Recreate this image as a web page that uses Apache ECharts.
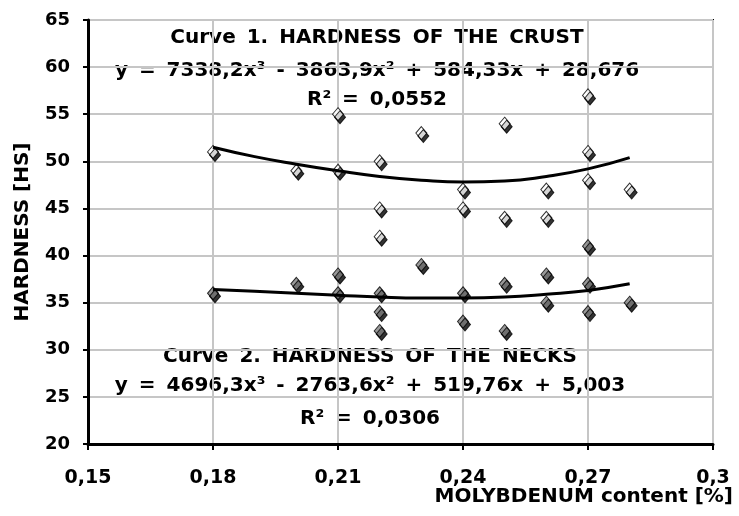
<!DOCTYPE html>
<html>
<head>
<meta charset="utf-8">
<script src="https://cdn.jsdelivr.net/npm/echarts@6/dist/echarts.min.js"></script>
<style>
  html, body { margin: 0; padding: 0; background: #fff; }
  #chart { width: 739px; height: 516px; }
</style>
</head>
<body>
<div id="chart"></div>
<script>
// measured points: crust (open diamonds) and necks (grey diamonds)
const crustX = [0.18, 0.20, 0.21, 0.21, 0.22, 0.22, 0.22, 0.23, 0.24, 0.24, 0.25, 0.25, 0.26, 0.26, 0.27, 0.27, 0.27, 0.28];
const crustY = [51, 49, 49, 55, 50, 45, 42, 53, 47, 45, 54, 44, 47, 44, 57, 51, 48, 47];
const neckX = [0.18, 0.20, 0.21, 0.21, 0.22, 0.22, 0.22, 0.23, 0.24, 0.24, 0.25, 0.25, 0.26, 0.26, 0.27, 0.27, 0.27, 0.28];
const neckY = [36, 37, 38, 36, 36, 34, 32, 39, 36, 33, 37, 32, 38, 35, 41, 37, 34, 35];

// trend curves
const fitX = [0.18, 0.19, 0.20, 0.21, 0.22, 0.23, 0.24, 0.25, 0.26, 0.27, 0.28];
const crustFit = [51.5, 50.5, 49.7, 49.0, 48.4, 48.0, 47.8, 47.9, 48.4, 49.2, 50.4];
const neckFit = [36.4, 36.2, 36.0, 35.8, 35.6, 35.5, 35.5, 35.6, 35.9, 36.3, 37.0];

const xTickLabels = ["0,15", "0,18", "0,21", "0,24", "0,27", "0,3"];

const FONT = "'DejaVu Sans', Verdana, sans-serif";

function pairs(xs, ys) {
  return xs.map((x, i) => [x, ys[i]]);
}

// spaces get a little padding so the wide Excel spacing is kept
function widen(text) {
  return text.split(" ").join("{w| }");
}

function note(x, y, text, align, size) {
  return {
    type: "text",
    x: x,
    y: y,
    silent: true,
    style: {
      text: text,
      fill: "#000",
      font: "bold " + (size || 20) + "px " + FONT,
      textAlign: align || "center",
      textVerticalAlign: "middle",
      align: align || "center",
      verticalAlign: "middle",
      rich: {
        w: { padding: [0, 2], font: "bold " + (size || 20) + "px " + FONT },
      },
    },
  };
}

const markerStyle = {
  borderColor: "#000",
  borderWidth: 1,
  shadowColor: "#000",
  shadowBlur: 0,
  shadowOffsetX: 2,
  shadowOffsetY: 3,
};

const myChart = echarts.init(document.getElementById("chart"));
myChart.setOption({
  animation: false,
  backgroundColor: "#fff",
  grid: {
    left: 88,
    right: 26,
    top: 20,
    bottom: 72,
    show: true,
    borderColor: "#000",
    borderWidth: 2,
  },
  xAxis: {
    type: "value",
    min: 0.15,
    max: 0.3,
    interval: 0.03,
    axisLine: { show: true, lineStyle: { color: "#000", width: 3 } },
    axisTick: { show: true, inside: false, length: 6, lineStyle: { color: "#000", width: 2 } },
    splitLine: { show: true, lineStyle: { color: "#c6c6c6", width: 2 } },
    axisLabel: {
      color: "#000",
      fontFamily: FONT,
      fontWeight: "bold",
      fontSize: 19,
      margin: 25,
      formatter: function (v) {
        return xTickLabels[Math.round((v - 0.15) / 0.03)];
      },
    },
  },
  yAxis: {
    type: "value",
    min: 20,
    max: 65,
    interval: 5,
    name: "HARDNESS [HS]",
    nameLocation: "middle",
    nameGap: 55,
    nameTextStyle: { color: "#000", fontFamily: FONT, fontWeight: "bold", fontSize: 20 },
    axisLine: { show: true, lineStyle: { color: "#000", width: 3 } },
    axisTick: { show: true, inside: false, length: 5, lineStyle: { color: "#000", width: 2 } },
    splitLine: { show: true, lineStyle: { color: "#c6c6c6", width: 2 } },
    axisLabel: {
      color: "#000",
      fontFamily: FONT,
      fontWeight: "bold",
      fontSize: 18,
      margin: 18,
    },
  },
  graphic: [
    note(377, 38, widen("Curve 1. HARDNESS OF THE CRUST")),
    note(377, 71, widen("y = 7338,2x³ - 3863,9x² + 584,33x + 28,676")),
    note(377, 100, widen("R² = 0,0552")),
    note(370, 357, widen("Curve 2. HARDNESS OF THE NECKS")),
    note(370, 386, widen("y = 4696,3x³ - 2763,6x² + 519,76x + 5,003")),
    note(370, 419, widen("R² = 0,0306")),
    note(733, 497, "MOLYBDENUM content [%]", "right", 20),
  ],
  series: [
    {
      name: "Crust",
      type: "scatter",
      symbol: "diamond",
      symbolSize: [11, 13],
      itemStyle: Object.assign({ color: "#fff" }, markerStyle),
      data: pairs(crustX, crustY),
      z: 3,
    },
    {
      name: "Necks",
      type: "scatter",
      symbol: "diamond",
      symbolSize: [11, 13],
      itemStyle: Object.assign({ color: "#808080" }, markerStyle),
      data: pairs(neckX, neckY),
      z: 3,
    },
    {
      name: "Crust trend",
      type: "line",
      smooth: true,
      symbol: "none",
      lineStyle: { color: "#000", width: 3 },
      data: pairs(fitX, crustFit),
      z: 4,
    },
    {
      name: "Necks trend",
      type: "line",
      smooth: true,
      symbol: "none",
      lineStyle: { color: "#000", width: 3 },
      data: pairs(fitX, neckFit),
      z: 4,
    },
  ],
});
</script>
</body>
</html>
